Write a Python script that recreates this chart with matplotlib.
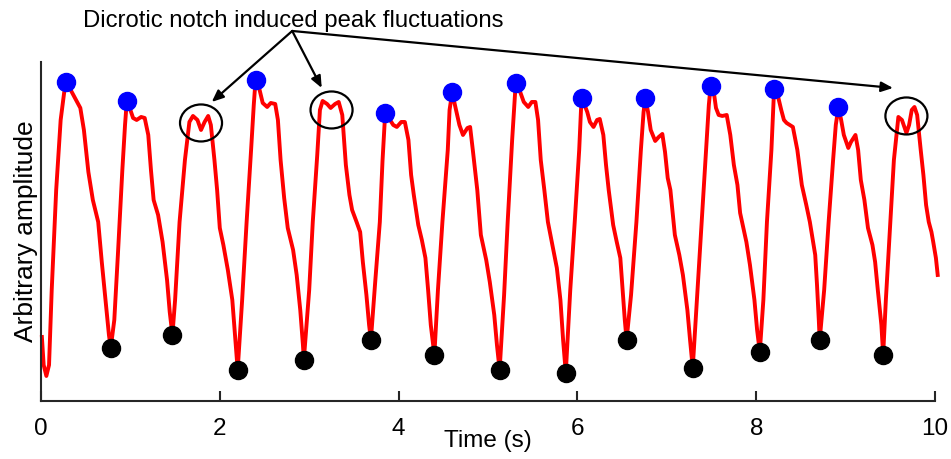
import matplotlib.pyplot as plt
from matplotlib.patches import Ellipse

plt.rcParams['font.family'] = ['Liberation Sans', 'DejaVu Sans']

# signal (time in s, arbitrary amplitude)
t_sig = [0.01, 0.03, 0.06, 0.09, 0.12, 0.17, 0.22, 0.26, 0.28, 0.32, 0.38, 0.44, 0.48, 0.53, 0.58, 0.64, 0.68, 0.73, 0.76, 0.78,
         0.82, 0.86, 0.91, 0.94, 0.96, 1.00, 1.03, 1.07, 1.12, 1.16, 1.20, 1.23, 1.26, 1.31, 1.36, 1.41, 1.44, 1.47,
         1.50, 1.55, 1.61, 1.66, 1.70, 1.75, 1.79, 1.83, 1.87, 1.90, 1.94, 1.97, 2.00, 2.04, 2.09, 2.14, 2.17, 2.20,
         2.25, 2.30, 2.35, 2.38, 2.40, 2.44, 2.48, 2.53, 2.57, 2.62, 2.65, 2.68, 2.72, 2.76, 2.82, 2.86, 2.90, 2.93, 2.94,
         3.00, 3.04, 3.09, 3.12, 3.15, 3.20, 3.24, 3.29, 3.33, 3.37, 3.41, 3.45, 3.48, 3.53, 3.57, 3.60, 3.64, 3.67, 3.69,
         3.74, 3.79, 3.82, 3.85, 3.89, 3.94, 3.98, 4.03, 4.07, 4.11, 4.14, 4.17, 4.22, 4.26, 4.30, 4.33, 4.36, 4.40,
         4.44, 4.49, 4.55, 4.57, 4.60, 4.63, 4.68, 4.72, 4.77, 4.80, 4.83, 4.88, 4.92, 4.98, 5.02, 5.07, 5.10, 5.13,
         5.18, 5.22, 5.27, 5.30, 5.31, 5.36, 5.40, 5.45, 5.49, 5.53, 5.56, 5.59, 5.63, 5.67, 5.72, 5.77, 5.81, 5.84, 5.87,
         5.92, 5.97, 6.02, 6.04, 6.05, 6.11, 6.14, 6.18, 6.22, 6.25, 6.29, 6.32, 6.35, 6.40, 6.44, 6.48, 6.51, 6.53, 6.55,
         6.60, 6.66, 6.71, 6.74, 6.76, 6.79, 6.82, 6.87, 6.91, 6.95, 6.98, 7.01, 7.04, 7.09, 7.14, 7.18, 7.23, 7.26, 7.29,
         7.34, 7.39, 7.44, 7.47, 7.49, 7.53, 7.55, 7.58, 7.62, 7.67, 7.71, 7.75, 7.79, 7.82, 7.89, 7.93, 7.98, 8.01, 8.04,
         8.08, 8.12, 8.17, 8.19, 8.20, 8.24, 8.28, 8.31, 8.34, 8.41, 8.46, 8.51, 8.56, 8.60, 8.66, 8.68, 8.70, 8.71,
         8.76, 8.81, 8.86, 8.89, 8.92, 8.95, 8.98, 9.03, 9.06, 9.11, 9.14, 9.17, 9.21, 9.25, 9.30, 9.33, 9.36, 9.40, 9.42,
         9.45, 9.50, 9.54, 9.58, 9.59, 9.63, 9.68, 9.71, 9.74, 9.77, 9.80, 9.84, 9.87, 9.90, 9.93, 9.96, 9.98, 10.01, 10.03]
amp_sig = [64, 36, 25, 36, 111, 211, 281, 309, 319, 313, 303, 293, 271, 229, 201, 179, 139, 93, 66, 53,
           81, 146, 231, 276, 300, 291, 283, 281, 284, 283, 266, 231, 201, 186, 159, 121, 89, 66,
           101, 179, 241, 279, 285, 281, 271, 279, 285, 276, 241, 211, 173, 156, 131, 101, 66, 31,
           101, 179, 251, 296, 321, 313, 298, 294, 298, 297, 281, 241, 203, 173, 151, 126, 91, 56, 41,
           111, 179, 246, 291, 300, 297, 293, 297, 299, 286, 236, 206, 191, 179, 169, 139, 106, 76, 61,
           121, 179, 240, 288, 283, 276, 274, 279, 279, 261, 226, 206, 176, 161, 143, 111, 76, 46,
           111, 179, 251, 291, 309, 296, 276, 266, 273, 274, 251, 211, 166, 141, 119, 86, 56, 31,
           106, 179, 261, 303, 318, 309, 299, 294, 299, 299, 281, 241, 211, 179, 156, 133, 101, 61, 28,
           111, 179, 251, 291, 303, 289, 279, 274, 281, 282, 266, 236, 211, 176, 159, 143, 106, 81, 61,
           106, 179, 251, 289, 303, 289, 271, 260, 264, 267, 249, 223, 211, 166, 146, 126, 91, 61, 33,
           106, 179, 251, 296, 315, 306, 293, 286, 285, 286, 266, 236, 216, 188, 159, 136, 101, 71, 49,
           101, 179, 251, 293, 312, 306, 291, 281, 278, 274, 251, 216, 196, 179, 146, 116, 81, 61,
           111, 179, 241, 276, 294, 281, 266, 253, 259, 266, 251, 221, 201, 173, 156, 139, 111, 76, 46,
           101, 179, 241, 276, 284, 281, 268, 276, 291, 294, 286, 251, 226, 196, 179, 169, 159, 143, 126]

# detected peaks (blue) and troughs (black)
peak_t = [0.28, 0.96, 2.40, 3.85, 4.60, 5.31, 6.05, 6.76, 7.49, 8.20, 8.92]
peak_amp = [319, 300, 321, 288, 309, 318, 303, 303, 315, 312, 294]
trough_t = [0.78, 1.47, 2.20, 2.94, 3.69, 4.40, 5.13, 5.87, 6.55, 7.29, 8.04, 8.71, 9.42]
trough_amp = [53, 66, 31, 41, 61, 46, 31, 28, 61, 33, 49, 61, 46]

# circled double peaks
notch_t = [1.79, 3.25, 9.68]
notch_amp = [278, 291, 285]
arrow_tip_t = [1.91, 3.14, 9.53]
arrow_tip_amp = [299, 313, 313]
label_t, label_amp = 2.81, 370

fig = plt.figure(figsize=(9.51, 4.59), dpi=100)
ax = fig.add_axes([0.0431, 0.1264, 0.9401, 0.7386])

ax.plot(t_sig, amp_sig, color='red', lw=2.8, clip_on=False, zorder=2, solid_joinstyle='round')
ax.plot(peak_t, peak_amp, 'o', color='blue', ms=13, mec='blue', zorder=3, clip_on=False)
ax.plot(trough_t, trough_amp, 'o', color='black', ms=13, zorder=3, clip_on=False)

for xt, ya in zip(notch_t, notch_amp):
    ax.add_patch(Ellipse((xt, ya), 0.47, 37, fill=False, ec='black', lw=1.6, zorder=4))

for xt, ya in zip(arrow_tip_t, arrow_tip_amp):
    ax.annotate('', xy=(xt, ya), xytext=(label_t, label_amp), annotation_clip=False,
                arrowprops=dict(arrowstyle='-|>,head_length=0.7,head_width=0.3', color='black', lw=1.6,
                                shrinkA=0, shrinkB=0))

ax.text(0.47, 374, 'Dicrotic notch induced peak fluctuations', fontsize=17.2, va='baseline', ha='left', clip_on=False)

ax.set_xlim(0, 10)
ax.set_ylim(0, 339)
ax.set_xticks([0, 2, 4, 6, 8, 10])
ax.set_xticklabels(['0', '2', '4', '6', '8', '10'], family=['Liberation Sans Narrow', 'Liberation Sans'])
ax.set_yticks([])
ax.spines['top'].set_visible(False)
ax.spines['right'].set_visible(False)
for s in ['left', 'bottom']:
    ax.spines[s].set_linewidth(1.5)
    ax.spines[s].set_color('#262626')
ax.tick_params(axis='x', direction='in', length=7, width=1.5, color='#262626', labelsize=17.5, pad=12)
ax.set_xlabel('Time (s)', fontsize=17.5, labelpad=-7)
ax.set_ylabel('Arbitrary amplitude', fontsize=19, labelpad=2)

plt.savefig('out.png', dpi=100)
